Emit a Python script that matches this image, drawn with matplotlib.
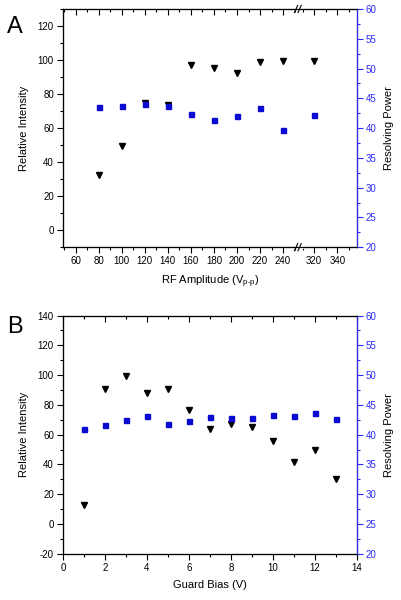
import numpy as np
import matplotlib
matplotlib.use("Agg")
from matplotlib import pyplot as plt
from matplotlib.ticker import MultipleLocator, FixedLocator

plt.rcParams['font.family'] = ['Liberation Sans', 'DejaVu Sans']
plt.rcParams['axes.unicode_minus'] = False
plt.rcParams['mathtext.fontset'] = 'custom'
plt.rcParams['mathtext.rm'] = 'Liberation Sans'

# panel A data
rf_amp = [80, 100, 120, 140, 160, 180, 200, 220, 240, 320]
rf_intensity = [32.5, 49.5, 74.8, 73.5, 96.8, 95.6, 92.5, 98.8, 99.3, 99.3]
rf_resolving = [43.6, 43.7, 44.0, 43.7, 42.3, 41.3, 42.1, 43.3, 39.6, 42.2]
rf_ticks = [60, 80, 100, 120, 140, 160, 180, 200, 220, 240, 320, 340]
rf_minor = [50, 70, 90, 110, 130, 150, 170, 190, 210, 230, 250, 310, 330, 350]

# panel B data
guard_bias = [1, 2, 3, 4, 5, 6, 7, 8, 9, 10, 11, 12, 13]
gb_intensity = [12.5, 90.5, 99.5, 88, 90.5, 76.5, 63.5, 67.5, 65.5, 55.5, 41.5, 49.5, 30.5]
gb_resolving = [40.9, 41.7, 42.4, 43.2, 41.8, 42.3, 42.9, 42.8, 42.8, 43.3, 43.1, 43.6, 42.7]

BREAK_LO, BREAK_HI = 252, 305
GAP = BREAK_HI - BREAK_LO
BLUE = '#2b2bff'
SQ_BLUE = '#0a0ad0'


def fwd(x):
    x = np.asarray(x, dtype=float)
    return np.where(x > BREAK_LO, x - GAP, x)


def inv(x):
    x = np.asarray(x, dtype=float)
    return np.where(x > BREAK_LO, x + GAP, x)


def style_axes(ax, ax2):
    ax.tick_params(axis='both', which='major', direction='out', length=4, width=0.8,
                   labelsize=7, pad=2.5)
    ax.tick_params(axis='both', which='minor', direction='out', length=2.2, width=0.8)
    ax2.tick_params(axis='y', which='major', direction='out', length=4, width=0.8,
                    labelsize=7, pad=2.5, colors=BLUE)
    ax2.tick_params(axis='y', which='minor', direction='out', length=2.2, width=0.8,
                    colors=BLUE)
    ax2.spines['right'].set_color(BLUE)
    for s in ax.spines.values():
        s.set_linewidth(0.8)
    ax2.spines['right'].set_linewidth(0.8)
    ax2.set_ylim(20, 60)
    ax2.yaxis.set_major_locator(MultipleLocator(5))
    ax2.yaxis.set_minor_locator(MultipleLocator(2.5))
    ax2.set_ylabel("Resolving Power", fontsize=8, labelpad=5)


fig = plt.figure(figsize=(4.01, 6.0), dpi=100)

# ---- panel A ----
axA = fig.add_axes([0.157, 0.588, 0.733, 0.397])
axA.set_xscale('function', functions=(fwd, inv))
axA.set_xlim(49, 357)
axA.set_ylim(-10, 130)
axA.xaxis.set_major_locator(FixedLocator(rf_ticks))
axA.xaxis.set_minor_locator(FixedLocator(rf_minor))
axA.yaxis.set_major_locator(MultipleLocator(20))
axA.yaxis.set_minor_locator(MultipleLocator(10))
axA.plot(rf_amp, rf_intensity, 'v', color='black', ms=5, zorder=3)
axA.set_xlabel("RF Amplitude (V$_{\\text{p-p}}$)", fontsize=8, labelpad=5)
axA.set_ylabel("Relative Intensity", fontsize=8, labelpad=6)

topA = axA.twiny()
topA.set_xscale('function', functions=(fwd, inv))
topA.set_xlim(49, 357)
topA.xaxis.set_major_locator(FixedLocator(rf_ticks))
topA.xaxis.set_minor_locator(FixedLocator(rf_minor))
topA.tick_params(which='major', direction='in', length=4, width=0.8, labeltop=False)
topA.tick_params(which='minor', direction='in', length=2.2, width=0.8)

axA2 = axA.twinx()
axA2.plot(rf_amp, rf_resolving, 's', color=SQ_BLUE, ms=3.6, zorder=3)
style_axes(axA, axA2)

# break marks on top and bottom spines
bx = (BREAK_LO - 49) / (fwd(357) - 49)
dx, dy, sep = 0.011, 0.03, 0.012
for yb in (0, 1):
    axA.plot([bx - 0.004, bx + sep + 0.004], [yb, yb], color='white', lw=2,
             transform=axA.transAxes, clip_on=False, zorder=10)
    for xo in (bx - 0.003, bx + sep - 0.003):
        axA.plot([xo - dx / 2, xo + dx / 2], [yb - dy / 2, yb + dy / 2], color='black',
                 lw=0.8, transform=axA.transAxes, clip_on=False, zorder=11)

fig.text(0.018, 0.955, "A", fontsize=17, va='center', ha='left')

# ---- panel B ----
axB = fig.add_axes([0.157, 0.077, 0.733, 0.397])
axB.set_xlim(0, 14)
axB.set_ylim(-20, 140)
axB.xaxis.set_major_locator(MultipleLocator(2))
axB.xaxis.set_minor_locator(MultipleLocator(1))
axB.yaxis.set_major_locator(MultipleLocator(20))
axB.yaxis.set_minor_locator(MultipleLocator(10))
axB.plot(guard_bias, gb_intensity, 'v', color='black', ms=5, zorder=3)
axB.set_xlabel("Guard Bias (V)", fontsize=8, labelpad=5)
axB.set_ylabel("Relative Intensity", fontsize=8, labelpad=6)

topB = axB.twiny()
topB.set_xlim(0, 14)
topB.xaxis.set_major_locator(MultipleLocator(2))
topB.xaxis.set_minor_locator(MultipleLocator(1))
topB.tick_params(which='major', direction='in', length=4, width=0.8, labeltop=False)
topB.tick_params(which='minor', direction='in', length=2.2, width=0.8)

axB2 = axB.twinx()
axB2.plot(guard_bias, gb_resolving, 's', color=SQ_BLUE, ms=3.6, zorder=3)
style_axes(axB, axB2)

fig.text(0.018, 0.455, "B", fontsize=17, va='center', ha='left')

fig.savefig("out.png", dpi=100)
